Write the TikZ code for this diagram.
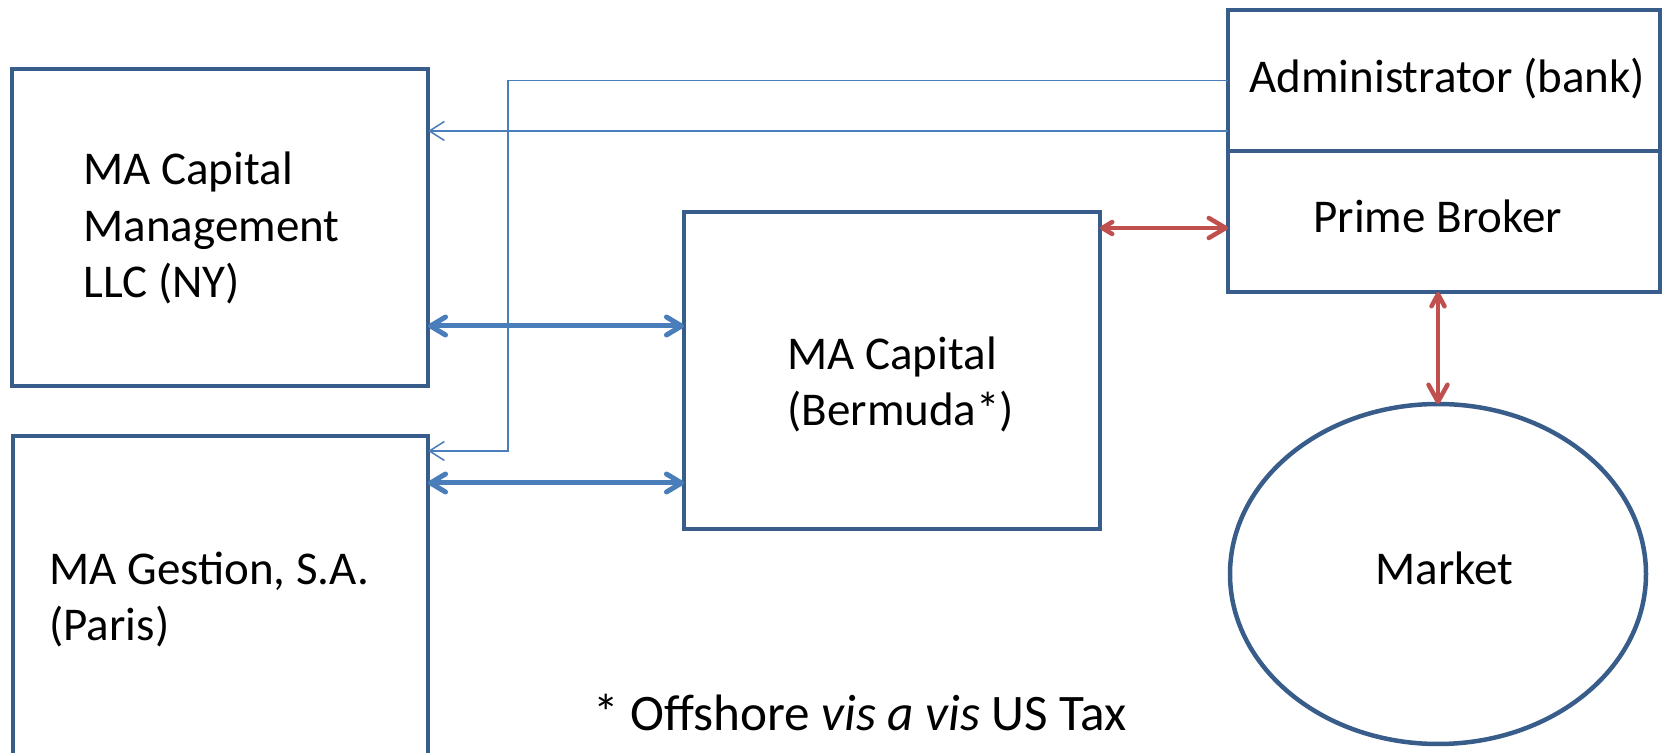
\documentclass[tikz,border=0pt]{standalone}
\usepackage{fontspec}
\setmainfont{Carlito}
\usetikzlibrary{arrows.meta,shapes.geometric}

\definecolor{frameblue}{RGB}{56,93,138}
\definecolor{linkblue}{RGB}{74,126,187}
\definecolor{linkred}{RGB}{192,80,77}

\begin{document}
\begin{tikzpicture}[
  x=0.5pt, y=-0.5pt,
  every node/.style={font=\fontsize{23.5pt}{28pt}\selectfont},
  box/.style={draw=frameblue, line width=2.25pt, rectangle, inner sep=0pt, outer sep=0pt},
  oval/.style={draw=frameblue, line width=2.25pt, ellipse, inner sep=0pt, outer sep=0pt,
               minimum width=208pt, minimum height=170pt},
  label/.style={anchor=base west, inner sep=0pt, text=black},
  feed/.style={draw=linkblue, line width=0.75pt,
               -{Straight Barb[length=7.5pt,width=9.5pt]}},
  flow/.style={draw=linkblue, line width=2.5pt,
               {Straight Barb[length=7.5pt,width=9pt,line cap=round,line join=round]}-{Straight Barb[length=7.5pt,width=9pt,line cap=round,line join=round]}},
  tie/.style={draw=linkred, line width=2.25pt}
]
\useasboundingbox (0,0) rectangle (1667,753);
\clip (0,0) rectangle (1667,753);

% entities
\node[box, minimum width=208pt, minimum height=158.5pt] (ny) at (220,227.5) {};
\node[box, minimum width=207.5pt, minimum height=182pt] (paris) at (220.5,618) {};
\node[box, minimum width=208pt, minimum height=158.5pt] (bermuda) at (892,370.5) {};
\node[box, minimum width=216pt, minimum height=70.5pt] (admin) at (1444,80.5) {};
\node[box, minimum width=216pt, minimum height=70.5pt] (prime) at (1444,221.5) {};
\node[oval] (market) at (1438,574) {};

% labels
\node[label] (nyA) at (83,185) {MA Capital};
\node[label] (nyB) at (83,242) {Management};
\node[label] (nyC) at (83,298) {LLC (NY)};
\node[label] (parisA) at (49,585) {MA Gestion, S.A.};
\node[label] (parisB) at (49,640) {(Paris)};
\node[label] (bermudaA) at (787,370) {MA Capital};
\node[label] (bermudaB) at (787,426) {(Bermuda*)};
\node[label] (adminT) at (1249,93) {Administrator (bank)};
\node[label] (primeT) at (1313,233) {Prime Broker};
\node[label] (marketT) at (1375,585) {Market};
\node[label, font=\fontsize{25.6pt}{30pt}\selectfont] (note) at (593,731) {* Offshore \textit{vis a vis} US Tax};

% administrator reporting lines
\coordinate (drop) at (508,451);
\coordinate (reportNY) at (0,131);
\draw[feed] (admin.west) -| (drop) -- (drop -| paris.east);
\draw[feed] (admin.west |- reportNY) -- (ny.east |- reportNY);

% management links to the fund
\coordinate (linkNY) at (0,326);
\coordinate (linkParis) at (0,483);
\draw[flow] (ny.east |- linkNY) -- (bermuda.west |- linkNY);
\draw[flow] (paris.east |- linkParis) -- (bermuda.west |- linkParis);

% fund, broker and market
\coordinate (linkPB) at (0,228);
\draw[tie, {Straight Barb[length=5pt,width=6pt,line cap=round,line join=round]}-{Straight Barb[length=8.5pt,width=10pt,line cap=round,line join=round]}]
  (bermuda.east |- linkPB) -- (prime.west |- linkPB);
\draw[tie, {Straight Barb[length=6pt,width=6.5pt,line cap=round,line join=round]}-{Straight Barb[length=8.5pt,width=9.5pt,line cap=round,line join=round]}]
  (market.north |- prime.south) -- (market.north);
\end{tikzpicture}
\end{document}
